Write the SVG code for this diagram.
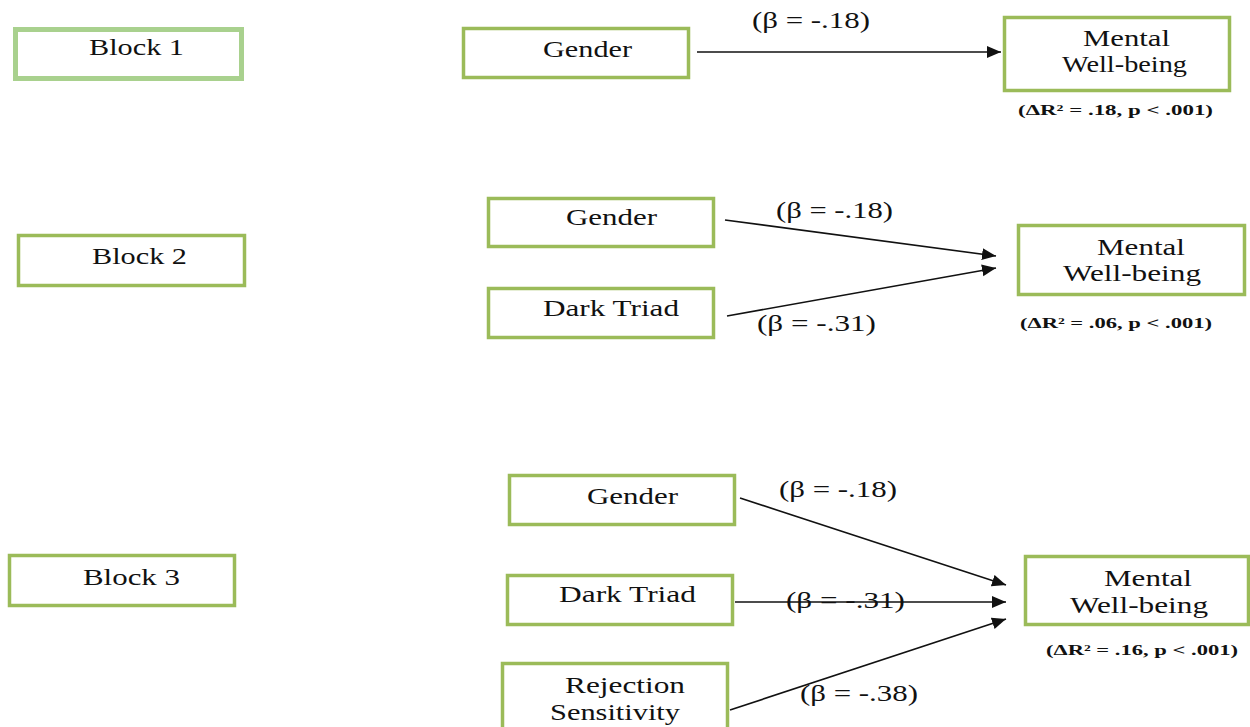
<svg xmlns="http://www.w3.org/2000/svg" width="1250" height="727" viewBox="0 0 1250 727">
<style>
.box{fill:#fff;stroke:#9bbb59;stroke-width:3.5}
.box1{fill:#fff;stroke:#a9d18e;stroke-width:5}
.t{font-family:"Liberation Serif","Times New Roman",serif;font-size:24px;fill:#111}
.b{font-family:"Liberation Serif","Times New Roman",serif;font-size:23px;fill:#111}
.r{font-family:"Liberation Serif","Times New Roman",serif;font-size:15px;font-weight:bold;fill:#111}
.c{stroke:#111;stroke-width:1.6;fill:none}
</style>
<defs>
<marker id="ah" markerUnits="userSpaceOnUse" markerWidth="15" markerHeight="13" refX="14" refY="6" orient="auto">
<path d="M0,0 L14,6 L0,12 z" fill="#111"/>
</marker>
</defs>
<rect width="1250" height="727" fill="#fff"/>

<g id="block1"><rect class="box1" x="15.5" y="29.5" width="226" height="49"/><text class="b" x="89" y="55" textLength="95" lengthAdjust="spacingAndGlyphs">Block 1</text></g>
<g id="block2"><rect class="box" x="18.5" y="235.5" width="226" height="50"/><text class="b" x="92" y="264" textLength="95" lengthAdjust="spacingAndGlyphs">Block 2</text></g>
<g id="block3"><rect class="box" x="9.5" y="555.5" width="225" height="50"/><text class="b" x="83" y="585" textLength="97" lengthAdjust="spacingAndGlyphs">Block 3</text></g>

<g id="b1-gender"><rect class="box" x="463.5" y="28.5" width="225" height="49"/><text class="t" x="543" y="57" textLength="89" lengthAdjust="spacingAndGlyphs">Gender</text></g>
<g id="b1-mwb"><rect class="box" x="1004.5" y="17.5" width="225" height="73"/><text class="t" x="1083" y="46" textLength="87" lengthAdjust="spacingAndGlyphs">Mental</text><text class="t" x="1062" y="72" textLength="125" lengthAdjust="spacingAndGlyphs">Well-being</text></g>

<g id="b2-gender"><rect class="box" x="488.5" y="198.5" width="225" height="48"/><text class="t" x="566" y="225" textLength="91" lengthAdjust="spacingAndGlyphs">Gender</text></g>
<g id="b2-dark"><rect class="box" x="488.5" y="288.5" width="225" height="49"/><text class="t" x="543" y="316" textLength="136" lengthAdjust="spacingAndGlyphs">Dark Triad</text></g>
<g id="b2-mwb"><rect class="box" x="1018.5" y="225.5" width="226" height="69"/><text class="t" x="1097" y="255" textLength="88" lengthAdjust="spacingAndGlyphs">Mental</text><text class="t" x="1063" y="281" textLength="138" lengthAdjust="spacingAndGlyphs">Well-being</text></g>

<g id="b3-gender"><rect class="box" x="509.5" y="475.5" width="225" height="49"/><text class="t" x="587" y="504" textLength="91" lengthAdjust="spacingAndGlyphs">Gender</text></g>
<g id="b3-dark"><rect class="box" x="507.5" y="575.5" width="225" height="49"/><text class="t" x="559" y="602" textLength="137" lengthAdjust="spacingAndGlyphs">Dark Triad</text></g>
<g id="b3-rs"><rect class="box" x="502.5" y="663.5" width="225" height="70"/><text class="t" x="565" y="693" textLength="120" lengthAdjust="spacingAndGlyphs">Rejection</text><text class="t" x="550" y="720" textLength="130" lengthAdjust="spacingAndGlyphs">Sensitivity</text></g>
<g id="b3-mwb"><rect class="box" x="1025.5" y="556.5" width="223" height="68"/><text class="t" x="1104" y="586" textLength="88" lengthAdjust="spacingAndGlyphs">Mental</text><text class="t" x="1070" y="613" textLength="138" lengthAdjust="spacingAndGlyphs">Well-being</text></g>

<g id="connectors">
<line class="c" x1="697" y1="52" x2="1001" y2="52" marker-end="url(#ah)"/>
<line class="c" x1="725" y1="220" x2="996" y2="256" marker-end="url(#ah)"/>
<line class="c" x1="727" y1="316" x2="996" y2="268" marker-end="url(#ah)"/>
<line class="c" x1="740" y1="498" x2="1006" y2="585" marker-end="url(#ah)"/>
<line class="c" x1="735" y1="602" x2="1006" y2="602" marker-end="url(#ah)"/>
<line class="c" x1="730" y1="710" x2="1006" y2="619" marker-end="url(#ah)"/>
</g>

<g id="labels">
<text class="t" x="752" y="28" textLength="118" lengthAdjust="spacingAndGlyphs">(β = -.18)</text>
<text class="r" x="1018" y="115" textLength="195" lengthAdjust="spacingAndGlyphs">(ΔR² = .18, p &lt; .001)</text>
<text class="t" x="776" y="218" textLength="117" lengthAdjust="spacingAndGlyphs">(β = -.18)</text>
<text class="t" x="757" y="331" textLength="119" lengthAdjust="spacingAndGlyphs">(β = -.31)</text>
<text class="r" x="1020" y="328" textLength="192" lengthAdjust="spacingAndGlyphs">(ΔR² = .06, p &lt; .001)</text>
<text class="t" x="779" y="497" textLength="118" lengthAdjust="spacingAndGlyphs">(β = -.18)</text>
<text class="t" x="786" y="608" textLength="119" lengthAdjust="spacingAndGlyphs">(β = -.31)</text>
<text class="t" x="800" y="701" textLength="118" lengthAdjust="spacingAndGlyphs">(β = -.38)</text>
<text class="r" x="1046" y="655" textLength="192" lengthAdjust="spacingAndGlyphs">(ΔR² = .16, p &lt; .001)</text>
</g>
</svg>
